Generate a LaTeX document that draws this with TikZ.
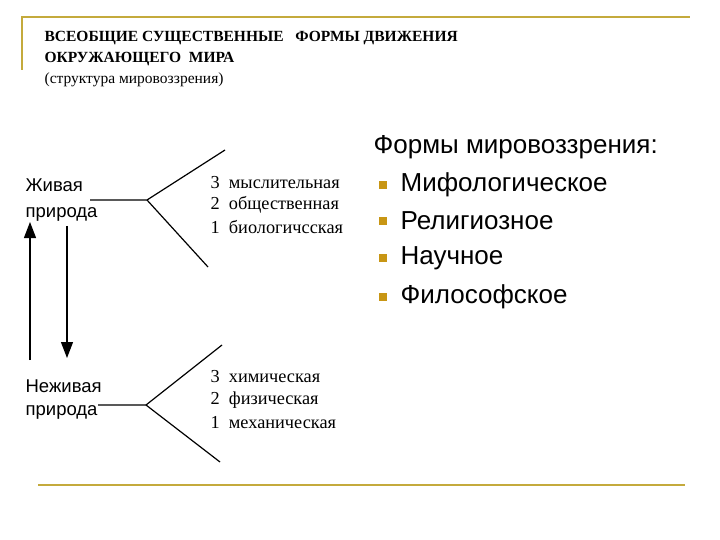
\documentclass[tikz,border=0pt]{standalone}
\usepackage{fontspec}
\usetikzlibrary{arrows.meta}
\setmainfont{Liberation Serif}
\newfontfamily\sans{Liberation Sans}
\definecolor{gold}{RGB}{196,170,60}
\definecolor{bul}{RGB}{200,150,20}
\begin{document}
\begin{tikzpicture}[x=1pt,y=-1pt,line width=1.2pt,
 title/.style={anchor=west,inner sep=0,font=\fontsize{15.5}{16}\selectfont\bfseries},
 sl/.style={anchor=west,inner sep=0,font=\sans\fontsize{18.5}{19}\selectfont},
 sr/.style={anchor=west,inner sep=0,font=\fontsize{18.3}{19}\selectfont},
 it/.style={anchor=west,inner sep=0,font=\sans\fontsize{26}{27}\selectfont},
 bl/.style={fill=bul,minimum size=8pt,inner sep=0}]
\useasboundingbox (0,0) rectangle (720,540);
\draw[gold,line width=2pt] (22,70) -- (22,17) -- (690,17);
\draw[gold,line width=2pt] (38,485) -- (685,485);
\node[title] (t1) at (44,38) {ВСЕОБЩИЕ СУЩЕСТВЕННЫЕ\ \ \ ФОРМЫ ДВИЖЕНИЯ};
\node[title] (t2) at (44,59) {ОКРУЖАЮЩЕГО\ \ МИРА};
\node[anchor=west,inner sep=0,font=\fontsize{15.5}{16}\selectfont] (t3) at (44,80) {(структура мировоззрения)};
\node[sl] (l1) at (25,185) {Живая};
\node[sl] (l2) at (25,214) {природа};
\node[sl] (n1) at (25,386) {Неживая};
\node[sl] (n2) at (25,412) {природа};
\coordinate (a) at (90,200); \coordinate (b) at (147,200);
\coordinate (bu) at (225,150); \coordinate (bd) at (208,267);
\draw (a) -- (b) -- (bu); \draw (b) -- (bd);
\coordinate (c) at (98,405); \coordinate (d) at (146,405);
\coordinate (du) at (222,345); \coordinate (dd) at (220,462);
\draw (c) -- (d) -- (du); \draw (d) -- (dd);
\coordinate (u0) at (30,360); \coordinate (u1) at (30,222);
\coordinate (v0) at (67,226); \coordinate (v1) at (67,358);
\draw[-{Triangle[length=16pt,width=12pt]}] (u0) -- (u1);
\draw[-{Triangle[length=16pt,width=12pt]}] (v0) -- (v1);
\node[sr] (r3) at (210,183) {3\ \ мыслительная};
\node[sr] (r2) at (210,205) {2\ \ общественная};
\node[sr] (r1) at (210,227) {1\ \ биологичсская};
\node[sr] (s3) at (210,377) {3\ \ химическая};
\node[sr] (s2) at (210,400) {2\ \ физическая};
\node[sr] (s1) at (210,423) {1\ \ механическая};
\node[it] (h) at (373,147) {Формы мировоззрения:};
\foreach \y/\t [count=\i] in {185/Мифологическое,221/Религиозное,258/Научное,297/Философское}{
 \node[bl] (b\i) at (383,\y) {};
 \node[it] (i\i) at (400,\y) {\t};
}
\end{tikzpicture}
\end{document}
